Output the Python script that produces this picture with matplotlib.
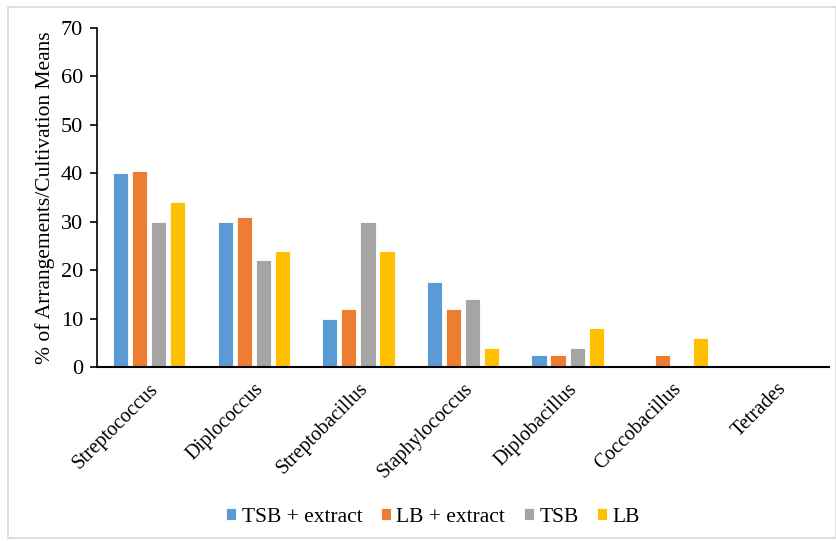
import matplotlib
matplotlib.use("Agg")
import matplotlib.pyplot as plt
import numpy as np
from matplotlib.patches import Rectangle

categories = ["Streptococcus", "Diplococcus", "Streptobacillus", "Staphylococcus",
              "Diplobacillus", "Coccobacillus", "Tetrades"]
series_names = ["TSB + extract", "LB + extract", "TSB", "LB"]
tsb_extract = [40, 30, 10, 17.5, 2.4, 0, 0]
lb_extract = [40.5, 31, 12, 12, 2.4, 2.4, 0]
tsb = [30, 22, 30, 14, 4, 0, 0]
lb = [34, 24, 24, 4, 8, 6, 0]
colors = ["#5B9BD5", "#ED7D31", "#A5A5A5", "#FFC000"]

plt.rcParams["font.family"] = ["Liberation Serif", "DejaVu Serif"]

fig = plt.figure(figsize=(8.37, 5.41), dpi=100)
ax = fig.add_axes([97 / 837, 1 - 367 / 541, 732 / 837, 339 / 541])

x = np.arange(len(categories))
width = 0.145
step = 0.182
for i, (vals, name) in enumerate(zip([tsb_extract, lb_extract, tsb, lb], series_names)):
    offs = (i - 1.5) * step
    ax.bar(x + offs, vals, width, color=colors[i], label=name,
           edgecolor="white", linewidth=0.6, zorder=2)

ax.set_xlim(-0.5, len(categories) - 0.5)
ax.set_ylim(0, 70)
ax.set_yticks(range(0, 71, 10))
ax.tick_params(axis="y", labelsize=16, length=5, width=1.2, direction="out", pad=5)
ax.set_xticks(x)
ax.set_xticklabels(categories, rotation=45, ha="right", rotation_mode="anchor", fontsize=14.5)
ax.tick_params(axis="x", length=0, pad=9)
ax.spines["top"].set_visible(False)
ax.spines["right"].set_visible(False)
ax.spines["left"].set_linewidth(1.2)
ax.spines["bottom"].set_linewidth(1.5)
ax.set_ylabel("% of Arrangements/Cultivation Means", fontsize=15.5, labelpad=4)

leg = fig.legend(loc="center", bbox_to_anchor=(433 / 837, 1 - 517 / 541), ncol=4,
                 frameon=False, fontsize=15.5, handlelength=0.48, handleheight=0.48,
                 columnspacing=0.85, handletextpad=0.25)

fig.patches.append(Rectangle((8 / 837, 3 / 541), 828 / 837, 531 / 541,
                             transform=fig.transFigure, fill=False,
                             edgecolor="#D9D9D9", linewidth=1.2))

fig.savefig("out.png", dpi=100)
